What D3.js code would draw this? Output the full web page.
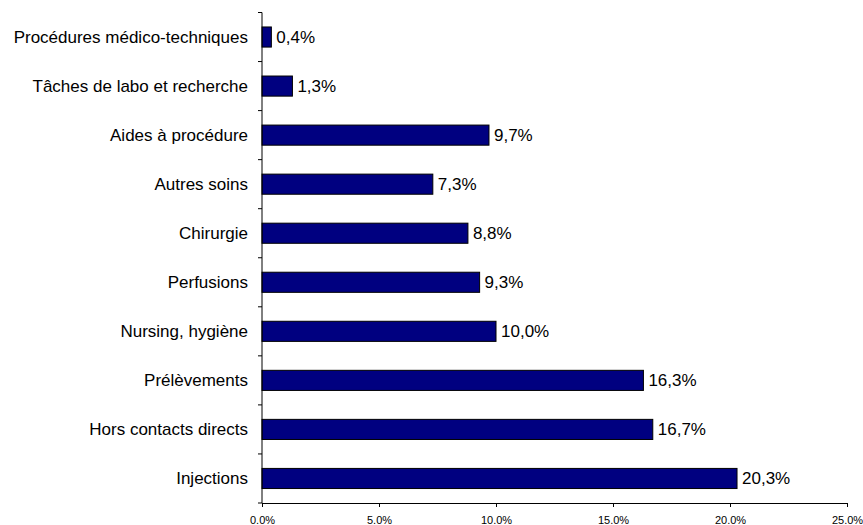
<!DOCTYPE html>
<html>
    <head>
        <meta charset="utf-8">
        <title>Répartition des activités</title>
        <style type="text/css">
            body {
                margin: 0;
                background-color: #ffffff;
            }
            svg {
                display: block;
            }
            .cat, .val {
                font-family: "Liberation Sans", Arial, sans-serif;
                font-size: 17px;
                fill: #000;
            }
            .tick text {
                font-family: "Liberation Sans", Arial, sans-serif;
                font-size: 11px;
                fill: #000;
            }
        </style>
        <script src="https://d3js.org/d3.v7.min.js"></script>
    </head>
    <body>
        <svg id="chart" width="863" height="525"></svg>
        <script>
            const categories = [
                "Procédures médico-techniques",
                "Tâches de labo et recherche",
                "Aides à procédure",
                "Autres soins",
                "Chirurgie",
                "Perfusions",
                "Nursing, hygiène",
                "Prélèvements",
                "Hors contacts directs",
                "Injections"
            ];
            const values = [0.4, 1.3, 9.7, 7.3, 8.8, 9.3, 10.0, 16.3, 16.7, 20.3];
            const xTicks = [0, 5, 10, 15, 20, 25];

            const plotLeft = 262, plotRight = 847, plotTop = 12.5, plotBottom = 503;

            const svg = d3.select("#chart");

            const x = d3.scaleLinear().domain([0, 25]).range([plotLeft, plotRight]);
            const y = d3.scaleBand().domain(categories).range([plotTop, plotBottom]).paddingInner(0.59).paddingOuter(0.295);

            // bars
            svg.selectAll("rect.bar")
                .data(values)
                .join("rect")
                .attr("class", "bar")
                .attr("x", x(0))
                .attr("y", (d, i) => y(categories[i]))
                .attr("width", d => x(d) - x(0))
                .attr("height", y.bandwidth())
                .attr("fill", "#000080")
                .attr("stroke", "#000")
                .attr("stroke-width", 1);

            // value labels
            svg.selectAll("text.val")
                .data(values)
                .join("text")
                .attr("class", "val")
                .attr("x", d => x(d) + 5)
                .attr("y", (d, i) => y(categories[i]) + y.bandwidth() / 2)
                .attr("dy", "0.35em")
                .text(d => d.toFixed(1).replace(".", ",") + "%");

            // category labels
            svg.selectAll("text.cat")
                .data(categories)
                .join("text")
                .attr("class", "cat")
                .attr("x", plotLeft - 14)
                .attr("y", d => y(d) + y.bandwidth() / 2)
                .attr("dy", "0.35em")
                .attr("text-anchor", "end")
                .text(d => d);

            // y axis line with ticks between categories
            const step = (plotBottom - plotTop) / categories.length;
            svg.append("line")
                .attr("x1", plotLeft).attr("x2", plotLeft)
                .attr("y1", plotTop).attr("y2", plotBottom)
                .attr("stroke", "#000");
            svg.selectAll("line.ytick")
                .data(d3.range(categories.length + 1))
                .join("line")
                .attr("class", "ytick")
                .attr("x1", plotLeft - 4).attr("x2", plotLeft)
                .attr("y1", i => plotTop + i * step).attr("y2", i => plotTop + i * step)
                .attr("stroke", "#000");

            // x axis
            svg.append("g")
                .attr("transform", `translate(0,${plotBottom})`)
                .call(d3.axisBottom(x).tickValues(xTicks).tickSize(4).tickPadding(9).tickFormat(d => d.toFixed(1) + "%"))
                .call(g => g.select(".domain").attr("stroke", "#000"))
                .call(g => g.selectAll(".tick line").attr("stroke", "#000"));
        </script>
    </body>
</html>
